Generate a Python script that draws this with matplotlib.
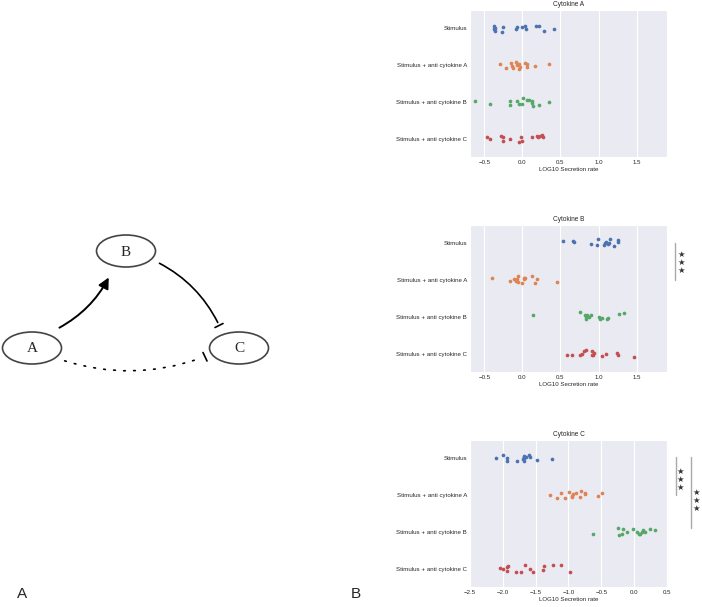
import matplotlib
matplotlib.use("Agg")
import matplotlib.pyplot as plt
import matplotlib.patches as mpatches
import seaborn as sns

sns.set_style("darkgrid")
plt.rcParams['font.family'] = ['Liberation Sans', 'DejaVu Sans']

categories = ["Stimulus", "Stimulus + anti cytokine A",
              "Stimulus + anti cytokine B", "Stimulus + anti cytokine C"]
colors = ['#4C72B0', '#DD8452', '#55A868', '#C44E52']
titles = ["Cytokine A", "Cytokine B", "Cytokine C"]

# log10 secretion rates, one list per condition
cytokine_a = [
    [-0.37, -0.36, -0.37, -0.36, -0.25, -0.27, -0.08, -0.07, 0.0, 0.03, 0.04, 0.18, 0.22, 0.28, 0.41],
    [-0.29, -0.21, -0.15, -0.14, -0.13, -0.08, -0.075, -0.04, -0.03, -0.045, 0.035, 0.055, 0.065, 0.17, 0.355],
    [-0.62, -0.43, -0.17, -0.17, -0.07, -0.05, 0.01, 0.0, 0.055, 0.085, 0.13, 0.12, 0.135, 0.22, 0.355],
    [-0.46, -0.43, -0.285, -0.26, -0.26, -0.17, -0.025, -0.04, -0.01, 0.125, 0.19, 0.2, 0.23, 0.26, 0.27],
]
cytokine_b = [
    [0.535, 0.66, 0.68, 0.90, 0.98, 0.99, 1.075, 1.09, 1.10, 1.12, 1.14, 1.145, 1.2, 1.25, 1.26],
    [-0.40, -0.165, -0.11, -0.09, -0.065, -0.065, -0.01, 0.015, 0.025, 0.035, 0.12, 0.16, 0.19, 0.45, -0.075],
    [0.145, 0.76, 0.825, 0.84, 0.84, 0.85, 0.87, 0.895, 1.01, 1.02, 1.05, 1.11, 1.13, 1.27, 1.33],
    [0.58, 0.65, 0.755, 0.785, 0.81, 0.83, 0.91, 0.92, 0.94, 0.93, 1.05, 1.10, 1.24, 1.26, 1.47],
]
cytokine_c = [
    [-2.10, -2.0, -1.93, -1.78, -1.70, -1.68, -1.67, -1.68, -1.65, -1.60, -1.58, -1.48, -1.25, -1.94, -1.67],
    [-1.28, -1.17, -1.11, -1.06, -0.995, -0.945, -0.94, -0.885, -0.83, -0.81, -0.75, -0.745, -0.55, -0.49, -0.93],
    [-0.63, -0.24, -0.23, -0.17, -0.18, -0.105, -0.02, 0.04, 0.08, 0.095, 0.135, 0.16, 0.24, 0.32, 0.125],
    [-2.05, -2.0, -1.94, -1.925, -1.94, -1.80, -1.72, -1.66, -1.58, -1.535, -1.39, -1.37, -1.24, -1.12, -0.975],
]

# strip jitter (category units)
jitter_a = [
    [-0.06, -0.02, 0.02, 0.06, -0.03, 0.09, 0.03, -0.03, -0.03, -0.07, 0.03, -0.05, -0.05, 0.08, 0.03],
    [-0.02, 0.08, -0.07, 0.02, 0.08, -0.08, 0.01, -0.02, 0.04, 0.1, -0.07, -0.02, 0.04, 0.03, -0.02],
    [-0.02, 0.06, -0.02, 0.09, -0.02, 0.05, -0.1, 0.05, -0.05, -0.06, -0.03, 0.04, 0.1, 0.08, 0.01],
    [-0.04, 0.02, -0.06, -0.04, 0.06, 0.0, -0.04, 0.09, 0.06, -0.04, -0.08, -0.04, -0.08, -0.09, -0.03],
]
jitter_b = [
    [-0.06, -0.06, -0.05, 0.02, 0.05, -0.11, 0.05, 0.0, -0.05, 0.03, 0.0, -0.11, 0.08, -0.05, -0.08],
    [-0.05, 0.03, -0.02, 0.03, -0.11, 0.05, 0.07, -0.06, -0.02, -0.06, -0.11, 0.07, -0.02, 0.06, -0.02],
    [-0.04, -0.12, -0.05, 0.0, 0.06, -0.04, 0.01, -0.06, -0.01, 0.06, 0.04, 0.07, 0.03, -0.07, -0.11],
    [0.03, 0.04, 0.03, 0.02, -0.06, -0.11, -0.06, 0.05, -0.03, 0.04, 0.06, 0.02, -0.02, 0.05, 0.08],
]
jitter_c = [
    [0.0, -0.1, 0.06, 0.08, 0.03, -0.04, -0.07, 0.06, -0.04, -0.09, -0.05, 0.05, 0.02, 0.0, 0.0],
    [0.0, 0.07, -0.06, 0.07, -0.08, 0.01, 0.06, -0.05, 0.05, -0.1, -0.06, -0.03, 0.01, -0.06, -0.04],
    [0.07, -0.1, 0.08, -0.07, 0.06, 0.0, -0.07, -0.01, 0.06, 0.06, -0.05, 0.0, -0.09, -0.05, 0.01],
    [-0.02, 0.01, -0.04, -0.06, 0.06, 0.08, 0.08, -0.09, 0.02, 0.09, 0.05, -0.07, -0.1, -0.09, 0.09],
]

xlims = [(-0.69, 1.9), (-0.69, 1.9), (-2.5, 0.5)]
xticks = [[-0.5, 0.0, 0.5, 1.0, 1.5], [-0.5, 0.0, 0.5, 1.0, 1.5],
          [-2.5, -2.0, -1.5, -1.0, -0.5, 0.0, 0.5]]

fig = plt.figure(figsize=(7.02, 6.07), dpi=100)

panels = [(cytokine_a, jitter_a), (cytokine_b, jitter_b), (cytokine_c, jitter_c)]
bottoms = [0.7414, 0.3871, 0.0329]
for p, (data, jit) in enumerate(panels):
    ax = fig.add_axes([0.6695, bottoms[p], 0.2806, 0.2422])
    for k, vals in enumerate(data):
        ys = [k + j for j in jit[k]]
        ax.scatter(vals, ys, s=7, color=colors[k], linewidths=0, zorder=3)
    ax.set_ylim(3.5, -0.5)
    ax.set_yticks(range(len(categories)))
    ax.set_yticklabels(categories)
    ax.grid(False, axis='y')
    ax.set_xlim(*xlims[p])
    ax.set_xticks(xticks[p])
    ax.tick_params(labelsize=4.4, pad=2, length=0, colors='#262626')
    ax.set_xlabel("LOG10 Secretion rate", fontsize=4.4, labelpad=1.5, color='#262626')
    ax.set_title(titles[p], fontsize=4.7, pad=3, color='#262626')

# diagram + annotations in pixel coordinates
dax = fig.add_axes([0, 0, 1, 1])
dax.set_xlim(0, 702)
dax.set_ylim(607, 0)
dax.axis('off')
dax.patch.set_alpha(0)

nodes = {"A": (32, 348), "B": (126, 251), "C": (239, 348)}
for name, (cx, cy) in nodes.items():
    dax.add_patch(mpatches.Ellipse((cx, cy), 59, 32, facecolor='white',
                                   edgecolor='#444444', lw=1.2))
    dax.text(cx, cy + 1, name, ha='center', va='center', fontsize=11,
             family='Liberation Serif')

dax.add_patch(mpatches.FancyArrowPatch((57, 329), (110, 275),
                                       connectionstyle="arc3,rad=0.16",
                                       arrowstyle="-|>", mutation_scale=16,
                                       color='black', lw=1.4))
dax.add_patch(mpatches.FancyArrowPatch((157, 262), (219, 325),
                                       connectionstyle="arc3,rad=-0.17",
                                       arrowstyle="-", color='black', lw=1.2))
dax.plot([215, 223], [327.5, 323.5], color='black', lw=1.2)
dax.add_patch(mpatches.FancyArrowPatch((62, 360), (201, 358),
                                       connectionstyle="arc3,rad=0.17",
                                       arrowstyle="-", color='black', lw=1.2,
                                       linestyle=(0, (1, 5))))
dax.plot([203, 207], [352.5, 361], color='black', lw=1.2)

dax.text(22, 594, "A", ha='center', va='center', fontsize=11)
dax.text(356, 594, "B", ha='center', va='center', fontsize=11)

# significance brackets
sig = [(675, 242.5, 280, 681, 262.3),
       (675.7, 457.3, 495, 680.7, 479.3),
       (691, 457, 528.3, 696, 500.7)]
for lx, y0, y1, sx, sy in sig:
    dax.plot([lx, lx], [y0, y1], color='#aaaaaa', lw=1)
    dax.text(sx, sy, "\u2605\n\u2605\n\u2605", ha='center', va='center',
             fontsize=6, linespacing=0.85, color='#333333', family='DejaVu Sans')

fig.savefig("out.png", dpi=100)
